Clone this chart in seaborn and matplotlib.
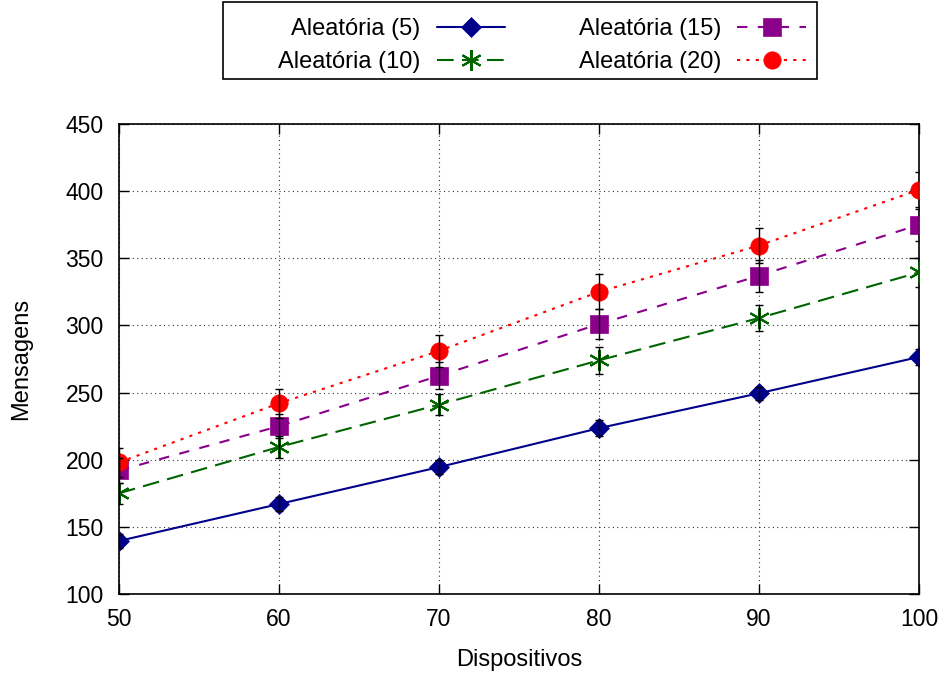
import matplotlib
matplotlib.use("Agg")
import matplotlib.pyplot as plt
from matplotlib.patches import Rectangle
import seaborn as sns
import pandas as pd
import numpy as np

dispositivos = [50, 60, 70, 80, 90, 100]
series_names = ["Aleatória (5)", "Aleatória (10)", "Aleatória (15)", "Aleatória (20)"]
al5 = [139.5, 167, 194.5, 223.5, 249.5, 276.5]
al10 = [175, 209.5, 241, 274, 305.5, 339.5]
al15 = [192, 225, 262.5, 301, 337, 375]
al20 = [198, 242, 281, 325, 359.5, 401]
err5 = [5, 5, 5, 6, 5, 6]
err10 = [8, 8, 8, 10, 10, 11]
err15 = [9, 9, 10, 11, 12, 12]
err20 = [11, 11, 12, 13, 13, 13]

colors = ["#00008b", "#006400", "#8b008b", "#ff0000"]
markers = ["D", (6, 2, 0), "s", "o"]
dashes = [(None, None), (8, 4), (5, 5), (1.5, 3)]
msizes = [10, 15, 12.5, 12.5]

sns.set_theme(style="ticks")
plt.rcParams["font.family"] = ["Liberation Sans", "DejaVu Sans"]
plt.rcParams["text.color"] = "black"
plt.rcParams["axes.labelcolor"] = "black"

values = [al5, al10, al15, al20]
errs = [err5, err10, err15, err20]
df = pd.DataFrame({
    "Dispositivos": np.tile(dispositivos, 4),
    "Mensagens": np.concatenate(values),
    "Serie": np.repeat(series_names, len(dispositivos)),
})

fig = plt.figure(figsize=(9.44, 6.73), dpi=100)
ax = fig.add_axes([119/944, 79/673, 800/944, 470/673])

handles = []
for i, name in enumerate(series_names):
    sub = df[df["Serie"] == name]
    sns.lineplot(data=sub, x="Dispositivos", y="Mensagens", ax=ax, color=colors[i],
                 linewidth=1.5, zorder=3, legend=False)
    line = ax.lines[-1]
    if dashes[i][0] is not None:
        line.set_dashes(dashes[i])
    mew = 1.5 if i == 1 else 0.5
    ax.plot(sub["Dispositivos"], sub["Mensagens"], linestyle="none", marker=markers[i],
            markersize=msizes[i], color=colors[i], markeredgecolor=colors[i],
            markeredgewidth=mew, zorder=4)
    ax.errorbar(sub["Dispositivos"], sub["Mensagens"], yerr=errs[i], fmt="none",
                ecolor="black", elinewidth=1.0, capsize=3, capthick=1.0, zorder=5)
    h = plt.Line2D([], [], color=colors[i], linewidth=1.5, marker=markers[i],
                   markersize=msizes[i], markeredgecolor=colors[i], markeredgewidth=mew)
    if dashes[i][0] is not None:
        h.set_dashes(dashes[i])
    handles.append(h)

ax.set_xlim(50, 100)
ax.set_ylim(100, 450)
ax.set_xticks(dispositivos)
ax.set_yticks(range(100, 451, 50))
ax.grid(True, linestyle=(0, (1, 3)), color="black", linewidth=0.8, alpha=0.8)
ax.set_axisbelow(True)
for s in ax.spines.values():
    s.set_linewidth(1.2)
    s.set_color("black")
ax.tick_params(direction="in", length=7, width=1, top=True, right=True,
               labelsize=16.5, colors="black", labelcolor="black")
ax.tick_params(axis="y", pad=11)
ax.tick_params(axis="x", pad=10)
ax.set_xlabel("Dispositivos", fontsize=17, labelpad=13, color="black")
ax.set_ylabel("Mensagens", fontsize=17, labelpad=24, color="black")

leg = fig.legend(handles=handles, labels=series_names, loc="upper left",
                 bbox_to_anchor=(278/944, 1 - 18/673),
                 ncol=2, markerfirst=False, fontsize=17,
                 frameon=False, borderpad=0, borderaxespad=0,
                 handlelength=2.9, handletextpad=0.7, columnspacing=3.1,
                 labelspacing=0.47)
for t in leg.get_texts():
    t.set_color("black")
fig.patches.append(Rectangle((223/944, 1 - 79/673), (817-223)/944, 77/673,
                             transform=fig.transFigure, fill=False,
                             edgecolor="black", linewidth=1.2))

fig.savefig("out.png", dpi=100)
